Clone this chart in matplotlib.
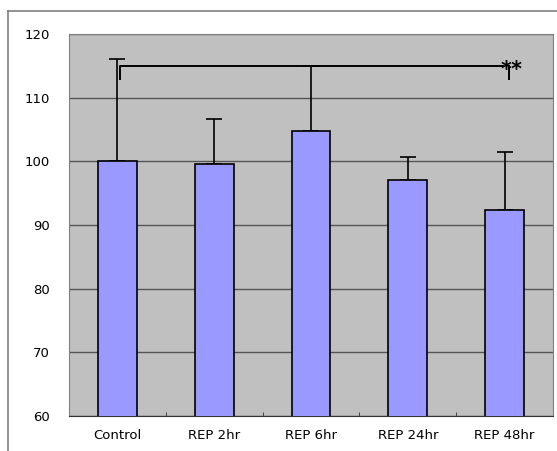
import numpy as np
import matplotlib
matplotlib.use('Agg')
import matplotlib.pyplot as plt
from matplotlib.lines import Line2D

groups = ['Control', 'REP 2hr', 'REP 6hr', 'REP 24hr', 'REP 48hr']
means = [100.0, 99.6, 104.7, 97.0, 92.4]
errs = [16.0, 7.1, 10.3, 3.7, 9.1]   # upper SD only

fig = plt.figure(figsize=(5.57, 4.51), dpi=100)
ax = fig.add_axes([0.1239, 0.0776, 0.8689, 0.847])
ax.set_facecolor('#C0C0C0')

x = np.arange(len(groups))
ax.bar(x, means, width=0.40, color='#9999FF', edgecolor='black', linewidth=1.2, zorder=3)
ax.errorbar(x, means, yerr=[np.zeros(len(errs)), errs], fmt='none', ecolor='black',
            elinewidth=1.2, capsize=6, capthick=1.2, zorder=2)

ax.set_xlim(-0.5, len(groups) - 0.5)
ax.set_ylim(60, 120)
ax.set_yticks(np.arange(60, 121, 10))
ax.yaxis.grid(True, color='#555555', linewidth=1)
ax.set_axisbelow(True)

# significance bracket Control vs REP 48hr
ax.plot([0.03, 0.03, 3.98], [113, 115, 115], color='black', lw=1.4, zorder=4)
ax.plot([4.045, 4.045], [115, 113], color='black', lw=1.4, zorder=4)
ax.text(4.075, 114.4, '**', fontsize=15, fontweight='bold', ha='center', va='center', zorder=5)

ax.set_xticks(x)
ax.set_xticklabels(groups, fontsize=9.5)
ax.set_xticks(np.arange(0.5, len(groups) - 1, 1), minor=True)
ax.tick_params(axis='x', which='major', length=0, pad=9)
ax.tick_params(axis='x', which='minor', direction='in', length=3, color='#333333')
ax.tick_params(axis='y', length=0, pad=14, labelsize=9.5)

for s in ['left', 'top', 'right']:
    ax.spines[s].set_color('#808080')
ax.spines['bottom'].set_color('#333333')

# outer chart frame (cropped on right/bottom)
fig.add_artist(Line2D([8 / 557, 8 / 557], [0, 1 - 11 / 451], color='#808080', lw=1.2))
fig.add_artist(Line2D([8 / 557, 1], [1 - 11 / 451, 1 - 11 / 451], color='#808080', lw=1.2))

fig.savefig('out.png', dpi=100)
